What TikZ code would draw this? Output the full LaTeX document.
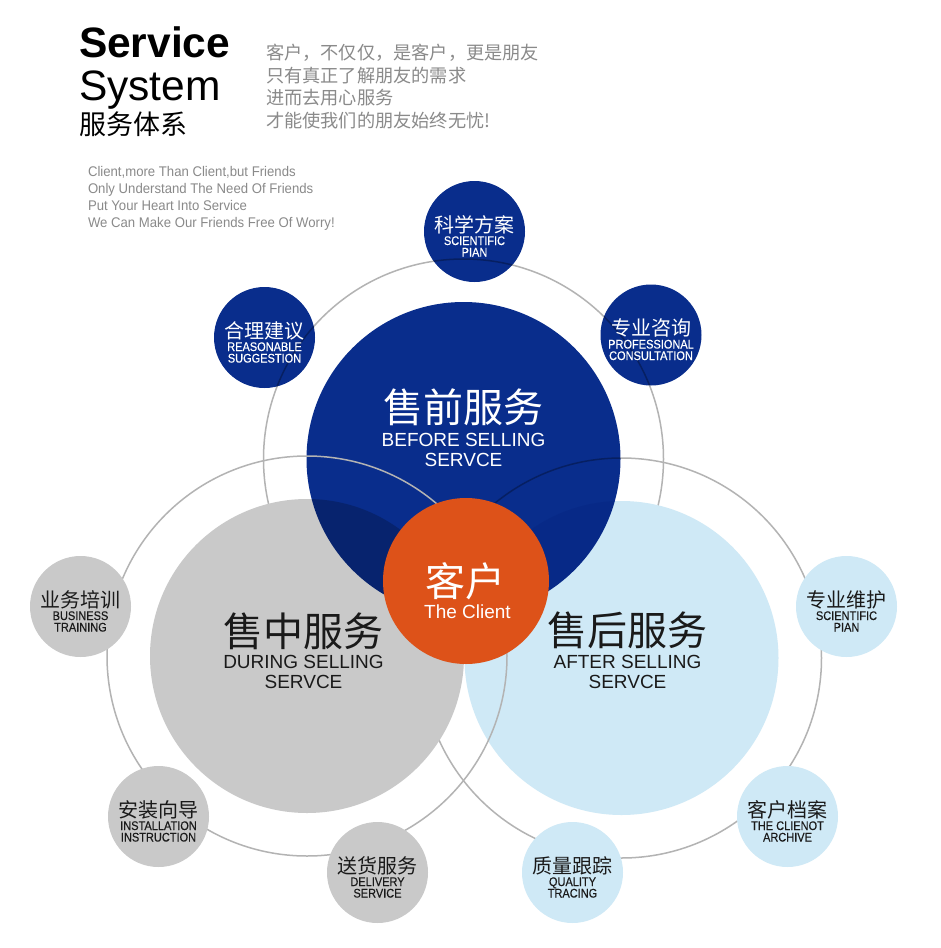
\documentclass[tikz,border=0pt]{standalone}
\usepackage{fontspec}
\setmainfont{Liberation Sans}
\newfontfamily\cjk{Noto Sans CJK SC}
\newfontfamily\narrowf[FakeStretch=0.88,FakeBold=0.4]{Liberation Sans}
\newfontfamily\parf[FakeStretch=0.94]{Liberation Sans}
\definecolor{cblue}{HTML}{092D8C}
\definecolor{cgrey}{HTML}{C9C9C9}
\definecolor{clight}{HTML}{CFE9F6}
\definecolor{corange}{HTML}{DD5219}
\definecolor{ringgrey}{HTML}{B3B3B3}
\definecolor{softtext}{HTML}{8A8A8A}
\definecolor{darktext}{HTML}{1A1A1A}
\newcommand\fs[1]{\fontsize{#1}{#1}\selectfont}
% name, cx, cy, text colour, chinese, en1, en2
\newcommand\smalllabel[7]{%
  \node[txt, text=#4, font={\cjk\fs{20}}, yshift=7pt] (#1cn) at (#2,#3) {#5};
  \node[txt, text=#4, font={\narrowf\fs{12.5}}, anchor=base, yshift=-13.5pt] (#1en) at (#2,#3) {#6};
  \node[txt, text=#4, font={\narrowf\fs{12.5}}, anchor=base, yshift=-25pt] (#1enb) at (#2,#3) {#7};
}
\begin{document}
\begin{tikzpicture}[x=1pt,y=-1pt,
  txt/.style={inner sep=0pt, outer sep=0pt},
  ring/.style={draw=ringgrey, line width=1.5pt},
  parline/.style={txt, anchor=base west, text=softtext, font={\parf\fs{14}}},
  cnline/.style={txt, anchor=west, text=softtext, font={\cjk\fs{18.2}}}]
\useasboundingbox (0,0) rectangle (940,948);
\fill[white] (0,0) rectangle (940,948);

% outline rings under the big discs
\draw[ring] (463.5,459) circle[radius=200pt];
\draw[ring] (621.5,658) circle[radius=200pt];

% big discs
\fill[cgrey] (307,656) circle[radius=157pt];
\fill[clight] (621.5,658) circle[radius=157pt];
\begin{scope}[blend mode=multiply]
  \fill[cblue] (463.5,459) circle[radius=157pt];
  \fill[cblue] (474.5,231.5) circle[radius=50.5pt];
  \fill[cblue] (264.5,337.5) circle[radius=50.5pt];
  \fill[cblue] (651,335) circle[radius=50.5pt];
\end{scope}

% left ring on top
\draw[ring] (307,656) circle[radius=200pt];

% centre disc
\fill[corange] (466,581) circle[radius=83pt];

% small grey and light blue discs
\fill[cgrey] (80.5,606.5) circle[radius=50.5pt];
\fill[cgrey] (158.5,816.5) circle[radius=50.5pt];
\fill[cgrey] (377.5,872.5) circle[radius=50.5pt];
\fill[clight] (846.5,606.5) circle[radius=50.5pt];
\fill[clight] (787.5,816.5) circle[radius=50.5pt];
\fill[clight] (572.5,872.5) circle[radius=50.5pt];

% title
\node[txt, anchor=base west, font={\bfseries\fs{42.5}}] (tService) at (79,57) {Service};
\node[txt, anchor=base west, font={\fs{42.5}}] (tSystem) at (79,100) {System};
\node[txt, anchor=west, font={\cjk\fs{27}}] (tCN) at (79,124.5) {服务体系};

% chinese lines
\node[cnline] (c1) at (266,52.5) {客户，不仅仅，是客户，更是朋友};
\node[cnline] (c2) at (266,75.3) {只有真正了解朋友的需求};
\node[cnline] (c3) at (266,98) {进而去用心服务};
\node[cnline] (c4) at (266,120.8) {才能使我们的朋友始终无忧!};

% english lines
\node[parline] (e1) at (88,176) {Client,more Than Client,but Friends};
\node[parline] (e2) at (88,193) {Only Understand The Need Of Friends};
\node[parline] (e3) at (88,210) {Put Your Heart Into Service};
\node[parline] (e4) at (88,227) {We Can Make Our Friends Free Of Worry!};

% big disc labels
\node[txt, text=white, font={\cjk\fs{40}}] (preCN) at (463.5,407) {售前服务};
\node[txt, text=white, font={\fs{19}}, anchor=base] (preEN) at (463.5,446) {BEFORE SELLING};
\node[txt, text=white, font={\fs{19}}, anchor=base] (preENb) at (463.5,466) {SERVCE};

\node[txt, text=darktext, font={\cjk\fs{40}}] (midCN) at (303.5,631) {售中服务};
\node[txt, text=darktext, font={\fs{19}}, anchor=base] (midEN) at (303.5,668) {DURING SELLING};
\node[txt, text=darktext, font={\fs{19}}, anchor=base] (midENb) at (303.5,688) {SERVCE};

\node[txt, text=darktext, font={\cjk\fs{40}}] (aftCN) at (627,630.5) {售后服务};
\node[txt, text=darktext, font={\fs{19}}, anchor=base] (aftEN) at (627.5,668) {AFTER SELLING};
\node[txt, text=darktext, font={\fs{19}}, anchor=base] (aftENb) at (627.5,688) {SERVCE};

\node[txt, text=white, font={\cjk\fs{40}}] (cliCN) at (465.5,581) {客户};
\node[txt, text=white, font={\fs{19}}, anchor=base] (cliEN) at (467.5,618) {The Client};

% small disc labels
\smalllabel{sa}{474.5}{231.5}{white}{科学方案}{SCIENTIFIC}{PIAN}
\smalllabel{sb}{264.5}{337.5}{white}{合理建议}{REASONABLE}{SUGGESTION}
\smalllabel{sc}{651}{335}{white}{专业咨询}{PROFESSIONAL}{CONSULTATION}
\smalllabel{sd}{80.5}{606.5}{darktext}{业务培训}{BUSINESS}{TRAINING}
\smalllabel{se}{158.5}{816.5}{darktext}{安装向导}{INSTALLATION}{INSTRUCTION}
\smalllabel{sf}{377.5}{872.5}{darktext}{送货服务}{DELIVERY}{SERVICE}
\smalllabel{sg}{846.5}{606.5}{darktext}{专业维护}{SCIENTIFIC}{PIAN}
\smalllabel{sh}{787.5}{816.5}{darktext}{客户档案}{THE CLIENOT}{ARCHIVE}
\smalllabel{si}{572.5}{872.5}{darktext}{质量跟踪}{QUALITY}{TRACING}
\end{tikzpicture}
\end{document}
